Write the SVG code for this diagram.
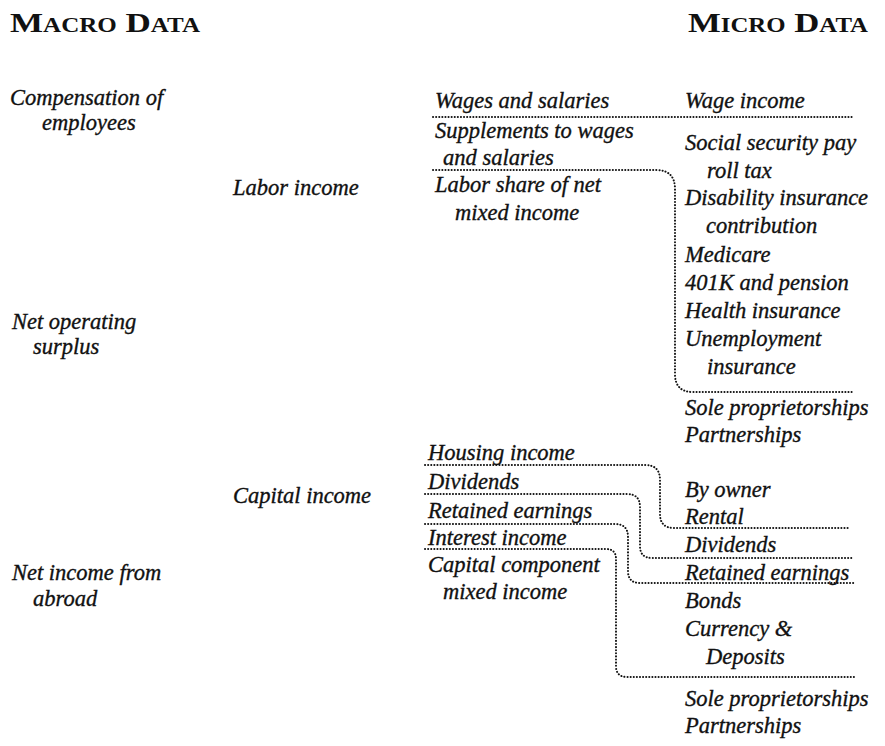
<svg xmlns="http://www.w3.org/2000/svg" width="885" height="746" viewBox="0 0 885 746">
<style>
  text { font-family: "Liberation Serif", "Times New Roman", serif; font-style: italic; font-size: 22.5px; fill: #111; stroke: #111; stroke-width: 0.35px; }
  .head { font-style: normal; font-weight: bold; font-size: 28px; font-variant: small-caps; stroke-width: 0; }
  .conn { fill: none; stroke: #111; stroke-width: 2; stroke-dasharray: 0.1 3; stroke-linecap: round; }
</style>
<rect width="885" height="746" fill="#fff"/>
<g id="headings">
  <text class="head" x="10" y="32" textLength="190" lengthAdjust="spacingAndGlyphs">Macro Data</text>
  <text class="head" x="688" y="32" textLength="180" lengthAdjust="spacingAndGlyphs">Micro Data</text>
</g>
<g id="connectors">
  <path class="conn" d="M433,117 H854"/>
  <path class="conn" d="M433,170 H656 Q675,170 675,189 V374 Q675,392 693,392 H852"/>
  <path class="conn" d="M425,465 H645 Q660,465 660,480 V514 Q660,528 674,528 H850"/>
  <path class="conn" d="M425,494 H627 Q640,494 640,507 V546 Q640,558 652,558 H852"/>
  <path class="conn" d="M425,524 H615 Q628,524 628,537 V571 Q628,583 640,583 H854"/>
  <path class="conn" d="M425,549 H606 Q616,549 616,559 V666 Q616,677 627,677 H855"/>
</g>
<g id="macro-compensation"><text x="10" y="105">Compensation of</text><text x="42" y="130">employees</text></g>
<g id="macro-net-operating"><text x="12" y="329">Net operating</text><text x="33" y="354">surplus</text></g>
<g id="macro-net-income-abroad"><text x="12" y="580">Net income from</text><text x="33" y="606">abroad</text></g>
<g id="labor-income"><text x="233" y="195">Labor income</text></g>
<g id="capital-income"><text x="233" y="503">Capital income</text></g>
<g id="wages-salaries"><text x="435" y="108">Wages and salaries</text></g>
<g id="supplements"><text x="435" y="138">Supplements to wages</text><text x="443" y="165">and salaries</text></g>
<g id="labor-share"><text x="435" y="192">Labor share of net</text><text x="455" y="220">mixed income</text></g>
<g id="housing-income"><text x="428" y="460">Housing income</text></g>
<g id="dividends-mid"><text x="428" y="489">Dividends</text></g>
<g id="retained-mid"><text x="428" y="518">Retained earnings</text></g>
<g id="interest-income"><text x="428" y="545">Interest income</text></g>
<g id="capital-component"><text x="428" y="572">Capital component</text><text x="443" y="599">mixed income</text></g>
<g id="wage-income"><text x="685" y="108">Wage income</text></g>
<g id="labor-benefits">
  <text x="685" y="150">Social security pay</text>
  <text x="707" y="178">roll tax</text>
  <text x="685" y="205">Disability insurance</text>
  <text x="706" y="233">contribution</text>
  <text x="685" y="262">Medicare</text>
  <text x="685" y="290">401K and pension</text>
  <text x="685" y="318">Health insurance</text>
  <text x="685" y="346">Unemployment</text>
  <text x="707" y="374">insurance</text>
</g>
<g id="labor-mixed"><text x="685" y="415">Sole proprietorships</text><text x="685" y="442">Partnerships</text></g>
<g id="housing-micro"><text x="685" y="497">By owner</text><text x="685" y="524">Rental</text></g>
<g id="dividends-micro"><text x="685" y="552">Dividends</text></g>
<g id="retained-micro"><text x="685" y="580">Retained earnings</text></g>
<g id="interest-micro"><text x="685" y="608">Bonds</text><text x="685" y="636">Currency &amp;</text><text x="706" y="664">Deposits</text></g>
<g id="capital-mixed"><text x="685" y="706">Sole proprietorships</text><text x="685" y="733">Partnerships</text></g>
</svg>
